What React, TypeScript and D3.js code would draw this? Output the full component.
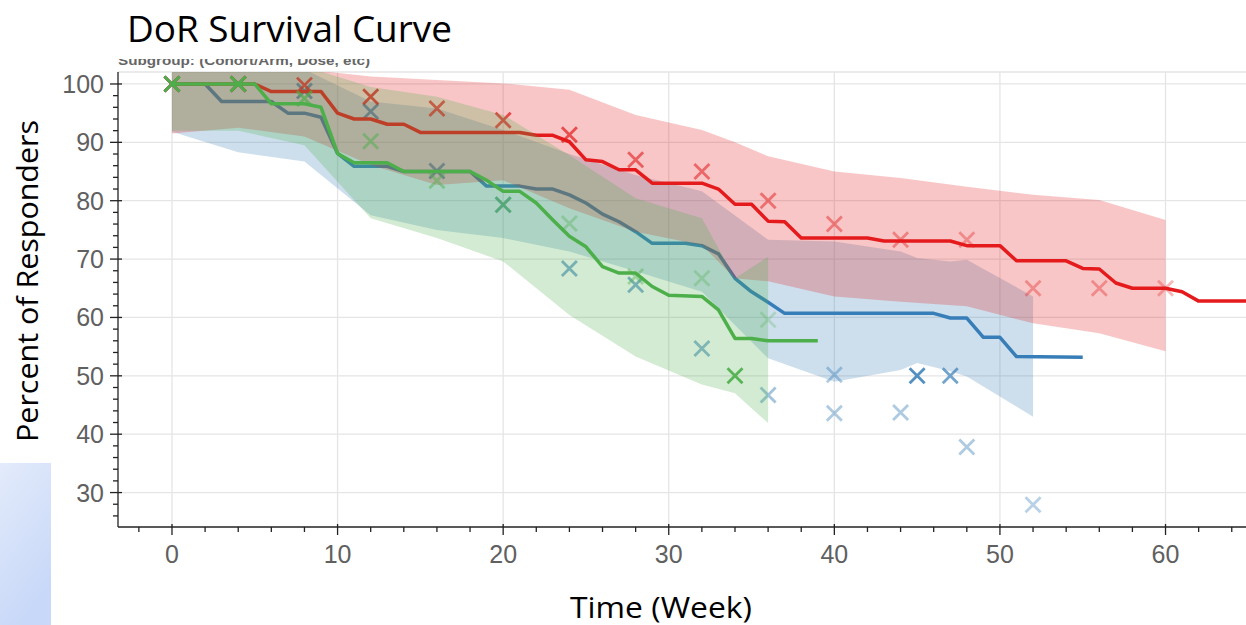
import React, { useEffect, useRef } from 'react';
import * as d3 from 'd3';

// KM step curves (week, % responding)
const redWeeks = [0, 5, 6, 9, 10, 11, 12, 13, 14, 15, 21, 22, 23, 24, 25, 26, 27, 28, 29, 32, 33, 34, 35, 36, 37, 38, 42, 43, 47, 48, 50, 51, 54, 55, 56, 57, 58, 60, 61, 62, 66];
const redValues = [100, 100, 98.7, 98.7, 95, 94, 94, 93.1, 93.1, 91.7, 91.7, 91.2, 91.2, 90.1, 87, 86.7, 85.3, 85.3, 83, 83, 82, 79.4, 79.4, 76.5, 76.4, 73.6, 73.6, 73.1, 73.1, 72.3, 72.3, 69.7, 69.7, 68.4, 68.3, 65.9, 65, 65, 64.4, 62.8, 62.8];

const blueWeeks = [0, 2, 3, 6, 7, 8, 9, 10, 11, 13, 14, 18, 19, 21, 22, 23, 24, 25, 26, 27, 28, 29, 31, 32, 33, 34, 35, 36, 37, 46, 47, 48, 49, 50, 51, 55];
const blueValues = [100, 100, 97, 97, 95, 95, 94.3, 88.1, 85.9, 85.9, 85, 85, 82.5, 82.5, 82, 82, 81, 79.6, 77.7, 76.4, 74.7, 72.7, 72.7, 72.3, 70.9, 66.7, 64.4, 62.6, 60.7, 60.7, 59.9, 59.9, 56.6, 56.6, 53.3, 53.2];

const greenWeeks = [0, 5, 6, 8, 9, 10, 11, 13, 14, 18, 19, 20, 21, 22, 23, 24, 25, 26, 27, 28, 29, 30, 32, 33, 34, 35, 36, 39];
const greenValues = [100, 100, 96.6, 96.6, 96, 88.1, 86.5, 86.5, 85, 85, 83.5, 81.6, 81.6, 79.6, 76.7, 73.9, 72.1, 68.7, 67.6, 67.6, 65.3, 63.8, 63.6, 61.3, 56.4, 56.4, 56, 56];

// confidence bands
const redBandWeeks = [0, 4, 8, 12, 16, 20, 24, 28, 32, 34, 36, 40, 44, 48, 52, 56, 60];
const redUpper = [103, 103, 102.5, 101.3, 100.7, 100.1, 99, 94.7, 92.1, 90, 87.6, 85, 83.9, 82.4, 81, 80.1, 76.7];
const redLower = [91.5, 92.5, 91, 86.1, 82.7, 83.5, 78.7, 74.7, 72.4, 66.7, 66.2, 63.6, 62.7, 61.9, 59, 57.3, 54.2];

const blueBandWeeks = [0, 4, 8, 12, 16, 20, 24, 28, 32, 36, 40, 44, 45, 47, 48, 52];
const blueUpper = [103, 103, 102.5, 97, 95.8, 92.1, 88, 84.4, 81.6, 73.3, 73, 71.3, 70.2, 69.6, 69.9, 63.6];
const blueLower = [91.8, 88.3, 86.7, 77.5, 75, 73.6, 71.3, 67.9, 64.4, 53, 49, 51, 52.2, 50.8, 49.9, 43];

const greenBandWeeks = [0, 4, 8, 12, 16, 20, 24, 28, 32, 34, 36];
const greenUpper = [103, 103, 103, 99.5, 97.8, 94.7, 87.8, 80.4, 77, 66.7, 70.4];
const greenLower = [92, 92, 89.5, 77, 73.6, 69.6, 60.4, 53.3, 48.5, 47, 41.9];

// observed points (x markers) and their weight
const redMarkWeeks = [0, 4, 8, 12, 16, 20, 24, 28, 32, 36, 40, 44, 48, 52, 56, 60];
const redMarkValues = [100, 100, 99.8, 97.8, 95.8, 93.8, 91.3, 87, 85, 80, 76, 73.3, 73.3, 65, 65, 65];
const redMarkWeight = [1, 1, 0.8, 0.85, 0.75, 0.75, 0.7, 0.6, 0.55, 0.5, 0.45, 0.4, 0.35, 0.35, 0.35, 0.3];

const blueMarkWeeks = [0, 4, 8, 12, 16, 20, 24, 28, 32, 36, 40, 40, 44, 45, 47, 48, 52];
const blueMarkValues = [100, 100, 98.8, 95.3, 85.1, 79.3, 68.4, 65.6, 54.7, 46.7, 50.2, 43.6, 43.7, 50, 50, 37.8, 27.9];
const blueMarkWeight = [1, 1, 0.8, 0.8, 0.75, 0.65, 0.6, 0.6, 0.55, 0.45, 0.4, 0.4, 0.4, 0.85, 0.7, 0.4, 0.35];

const greenMarkWeeks = [0, 4, 8, 12, 16, 20, 24, 28, 32, 34, 36];
const greenMarkValues = [100, 100, 97.5, 90.2, 83.4, 79.3, 76.1, 67, 66.7, 50, 59.6];
const greenMarkWeight = [1, 1, 0.7, 0.5, 0.45, 0.5, 0.35, 0.4, 0.3, 0.9, 0.25];

const xTicks = [0, 10, 20, 30, 40, 50, 60];
const yTicks = [30, 40, 50, 60, 70, 80, 90, 100];

const App = () => {
  const svgRef = useRef(null);

  useEffect(() => {
    const width = 1246;
    const height = 625;
    const left = 118, right = 1246, top = 72, bottom = 527;

    const svg = d3.select(svgRef.current);
    svg.selectAll('*').remove();

    const x = d3.scaleLinear().domain([-3.26, 64.86]).range([left, right]);
    const y = d3.scaleLinear().domain([24.1, 102.05]).range([bottom, top]);

    const defs = svg.append('defs');
    defs.append('clipPath').attr('id', 'plotclip')
      .append('rect').attr('x', left).attr('y', top).attr('width', right - left).attr('height', bottom - top);
    defs.append('clipPath').attr('id', 'subclip')
      .append('rect').attr('x', 100).attr('y', 59).attr('width', 400).attr('height', 10);
    const grad = defs.append('linearGradient').attr('id', 'bgblue')
      .attr('x1', 0).attr('y1', 0).attr('x2', 0.4).attr('y2', 1);
    grad.append('stop').attr('offset', 0).attr('stop-color', '#e3ebfb');
    grad.append('stop').attr('offset', 1).attr('stop-color', '#c8d8f8');

    svg.append('rect').attr('width', width).attr('height', height).attr('fill', '#fff');
    svg.append('rect').attr('x', 0).attr('y', 463).attr('width', 51).attr('height', 162).attr('fill', 'url(#bgblue)');

    // grid
    const grid = svg.append('g').attr('stroke', '#e5e5e5').attr('stroke-width', 1.3);
    grid.selectAll('line.gx').data(xTicks).join('line')
      .attr('x1', d => x(d)).attr('x2', d => x(d)).attr('y1', top).attr('y2', bottom);
    grid.selectAll('line.gy').data(yTicks).join('line')
      .attr('x1', left).attr('x2', right).attr('y1', d => y(d)).attr('y2', d => y(d));
    grid.append('line').attr('x1', left).attr('x2', right).attr('y1', top).attr('y2', top);

    const plot = svg.append('g').attr('clip-path', 'url(#plotclip)');

    const groups = [
      { color: '#377eb8', weeks: blueWeeks, values: blueValues, bw: blueBandWeeks, up: blueUpper, lo: blueLower, mw: blueMarkWeeks, mv: blueMarkValues, mo: blueMarkWeight },
      { color: '#e41a1c', weeks: redWeeks, values: redValues, bw: redBandWeeks, up: redUpper, lo: redLower, mw: redMarkWeeks, mv: redMarkValues, mo: redMarkWeight },
      { color: '#4daf4a', weeks: greenWeeks, values: greenValues, bw: greenBandWeeks, up: greenUpper, lo: greenLower, mw: greenMarkWeeks, mv: greenMarkValues, mo: greenMarkWeight },
    ];

    const area = d3.area().x(d => x(d[0])).y0(d => y(d[1])).y1(d => y(d[2]));
    const line = d3.line().x(d => x(d[0])).y(d => y(d[1]));

    groups.forEach(g => {
      plot.append('path')
        .datum(g.bw.map((w, i) => [w, g.lo[i], g.up[i]]))
        .attr('d', area)
        .attr('fill', g.color)
        .attr('fill-opacity', 0.25);

      plot.append('path')
        .datum(g.weeks.map((w, i) => [w, g.values[i]]))
        .attr('d', line)
        .attr('fill', 'none')
        .attr('stroke', g.color)
        .attr('stroke-width', 3.5)
        .attr('stroke-linejoin', 'round');

      plot.append('g').selectAll('path')
        .data(g.mw.map((w, i) => [w, g.mv[i], g.mo[i]]))
        .join('path')
        .attr('transform', d => `translate(${x(d[0])},${y(d[1])})`)
        .attr('d', 'M-7.5,-7.5L7.5,7.5M-7.5,7.5L7.5,-7.5')
        .attr('stroke', g.color)
        .attr('stroke-width', 2.8)
        .attr('opacity', d => d[2]);
    });

    // axes
    const axis = svg.append('g').attr('stroke', '#222').attr('stroke-width', 1.3);
    axis.append('line').attr('x1', left).attr('x2', left).attr('y1', top).attr('y2', bottom);
    axis.append('line').attr('x1', left).attr('x2', right).attr('y1', bottom).attr('y2', bottom);

    axis.selectAll('line.ymin').data(d3.range(26, 102, 2).filter(v => v % 10 !== 0)).join('line')
      .attr('x1', left - 5).attr('x2', left).attr('y1', d => y(d)).attr('y2', d => y(d));
    axis.selectAll('line.ymaj').data(yTicks).join('line')
      .attr('x1', left - 8).attr('x2', left + 4).attr('y1', d => y(d)).attr('y2', d => y(d));
    axis.selectAll('line.xmin').data(d3.range(-2, 65, 2).filter(v => v % 10 !== 0)).join('line')
      .attr('y1', bottom).attr('y2', bottom + 5).attr('x1', d => x(d)).attr('x2', d => x(d));
    axis.selectAll('line.xmaj').data(xTicks).join('line')
      .attr('y1', bottom - 3).attr('y2', bottom + 8).attr('x1', d => x(d)).attr('x2', d => x(d));

    const tickFont = '"Liberation Sans", Arial, sans-serif';
    svg.append('g').selectAll('text').data(yTicks).join('text')
      .attr('x', left - 14).attr('y', d => y(d)).attr('dy', '0.36em')
      .attr('text-anchor', 'end')
      .style('font-family', tickFont).style('font-size', '25px')
      .attr('fill', '#606060')
      .text(d => d);
    svg.append('g').selectAll('text').data(xTicks).join('text')
      .attr('x', d => x(d)).attr('y', 563)
      .attr('text-anchor', 'middle')
      .style('font-family', tickFont).style('font-size', '25px')
      .attr('fill', '#606060')
      .text(d => d);

    // titles
    const slideFont = '"Open Sans", "Noto Sans", sans-serif';
    svg.append('text').attr('x', 127).attr('y', 42)
      .attr('textLength', 325).attr('lengthAdjust', 'spacingAndGlyphs')
      .style('font-family', slideFont).style('font-size', '36px').attr('fill', '#000')
      .text('DoR Survival Curve');

    // plot subtitle, cut off by the slide crop: only its lower edge shows
    svg.append('text')
      .attr('clip-path', 'url(#subclip)')
      .attr('x', 118).attr('y', 64.5)
      .attr('textLength', 252).attr('lengthAdjust', 'spacingAndGlyphs')
      .style('font-family', tickFont).style('font-size', '12px').style('font-weight', 'bold')
      .attr('fill', '#666')
      .text('Subgroup: (Cohort/Arm, Dose, etc)');

    svg.append('text')
      .attr('transform', 'translate(38,281) rotate(-90)')
      .attr('text-anchor', 'middle')
      .attr('textLength', 322).attr('lengthAdjust', 'spacingAndGlyphs')
      .style('font-family', slideFont).style('font-size', '30px').attr('fill', '#000')
      .text('Percent of Responders');

    svg.append('text')
      .attr('x', 661).attr('y', 618)
      .attr('text-anchor', 'middle')
      .attr('textLength', 182).attr('lengthAdjust', 'spacingAndGlyphs')
      .style('font-family', slideFont).style('font-size', '29px').attr('fill', '#000')
      .text('Time (Week)');
  }, []);

  return (
    <svg ref={svgRef} width={1246} height={625}
      style={{ position: 'absolute', left: 0, top: 0, display: 'block' }} />
  );
};

export default App;
